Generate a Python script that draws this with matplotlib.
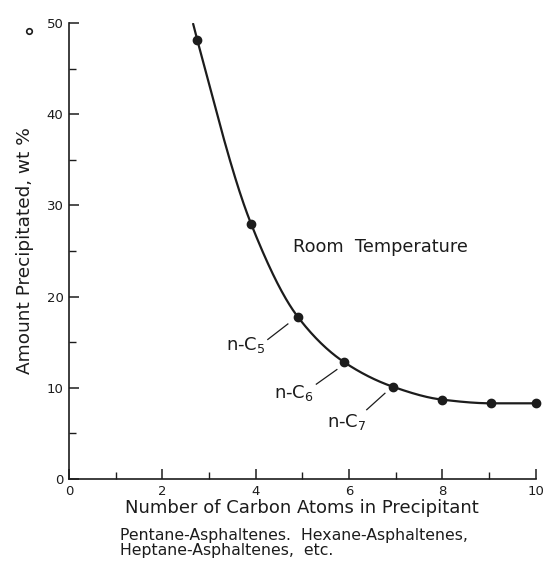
import numpy as np
import matplotlib
matplotlib.use("Agg")
import matplotlib.pyplot as plt
from matplotlib.ticker import MultipleLocator

plt.rcParams['font.family'] = ['DejaVu Sans']
plt.rcParams['mathtext.default'] = 'regular'

# data
carbon = [2.75, 3.9, 4.9, 5.9, 6.95, 8.0, 9.05, 10.0]
amount = [48.1, 28.0, 17.8, 12.8, 10.1, 8.7, 8.3, 8.3]
curve_top = (2.66, 49.9)   # where the drawn curve leaves the top of the frame

labels = ['n-C$_5$', 'n-C$_6$', 'n-C$_7$']
label_xy = [(3.36, 14.1), (4.39, 8.85), (5.52, 5.65)]
leader_from = [(4.26, 15.3), (5.30, 10.4), (6.38, 7.6)]
leader_to = [(4.69, 17.0), (5.74, 12.0), (6.77, 9.4)]

ink = '#1c1c1c'


def pchip(x, y, xn):
    x = np.asarray(x, float); y = np.asarray(y, float)
    h = np.diff(x); d = np.diff(y) / h
    m = np.zeros_like(y)
    for k in range(1, len(x) - 1):
        if d[k-1] * d[k] > 0:
            w1 = 2*h[k] + h[k-1]; w2 = h[k] + 2*h[k-1]
            m[k] = (w1 + w2) / (w1/d[k-1] + w2/d[k])
    m[0] = d[0]; m[-1] = d[-1] * 0.3
    i = np.clip(np.searchsorted(x, xn) - 1, 0, len(x) - 2)
    t = (xn - x[i]) / h[i]
    h00 = 2*t**3 - 3*t**2 + 1; h10 = t**3 - 2*t**2 + t
    h01 = -2*t**3 + 3*t**2; h11 = t**3 - t**2
    return h00*y[i] + h10*h[i]*m[i] + h01*y[i+1] + h11*h[i]*m[i+1]


fig = plt.figure(figsize=(5.49, 5.73), dpi=100)
ax = fig.add_axes([0.1257, 0.164, 0.85, 0.796])

cx = [curve_top[0]] + carbon
cy = [curve_top[1]] + amount
xs = np.linspace(cx[0], cx[-1], 400)
ax.plot(xs, pchip(cx, cy, xs), color=ink, lw=1.6, solid_capstyle='round')
ax.plot(carbon, amount, 'o', color=ink, ms=6, clip_on=False)

for lab, (tx, ty), (x0, y0), (x1, y1) in zip(labels, label_xy, leader_from, leader_to):
    ax.text(tx, ty, lab, fontsize=13, color=ink, ha='left', va='baseline')
    ax.plot([x0, x1], [y0, y1], color=ink, lw=0.9)

ax.text(4.8, 24.9, 'Room  Temperature', fontsize=12.8, color=ink, va='baseline')

ax.set_xlim(0, 10)
ax.set_ylim(0, 50)
ax.xaxis.set_major_locator(MultipleLocator(2))
ax.xaxis.set_minor_locator(MultipleLocator(1))
ax.yaxis.set_major_locator(MultipleLocator(10))
ax.yaxis.set_minor_locator(MultipleLocator(5))
for s in ['top', 'right']:
    ax.spines[s].set_visible(False)
for s in ['left', 'bottom']:
    ax.spines[s].set_linewidth(1.2)
    ax.spines[s].set_color(ink)
ax.tick_params(which='major', direction='in', length=7, width=1.1, color=ink,
               labelsize=9.5, labelcolor=ink, pad=4)
ax.tick_params(which='minor', direction='in', length=5, width=1.0, color=ink)

ax.set_xlabel('Number of Carbon Atoms in Precipitant', fontsize=13, color=ink, labelpad=1)
ax.set_ylabel('Amount Precipitated, wt %', fontsize=13.3, color=ink, labelpad=9)

fig.text(0.2186, 0.053, 'Pentane-Asphaltenes.  Hexane-Asphaltenes,\nHeptane-Asphaltenes,  etc.',
         fontsize=11.3, color=ink, va='center', ha='left', linespacing=1.0)
ax.plot([0.053], [0.946], 'o', ms=4, mfc='white', mec=ink, mew=1.2,
        transform=fig.transFigure, clip_on=False)

fig.savefig('out.png', dpi=100)
